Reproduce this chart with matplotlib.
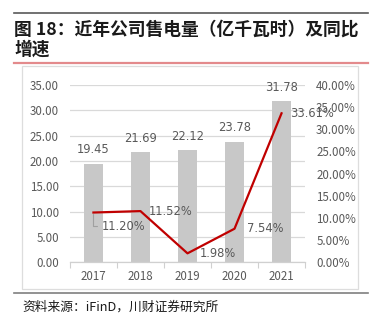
import matplotlib
matplotlib.use("Agg")
import matplotlib.pyplot as plt
from matplotlib.lines import Line2D
from matplotlib.patches import Rectangle

plt.rcParams['font.family'] = ['Noto Sans CJK SC', 'DejaVu Sans']

years = ['2017', '2018', '2019', '2020', '2021']
sales = [19.45, 21.69, 22.12, 23.78, 31.78]          # 亿千瓦时
growth = [11.20, 11.52, 1.98, 7.54, 33.61]           # %

bar_color = '#C8C8C8'
line_color = '#C00000'
tick_color = '#595959'

fig = plt.figure(figsize=(3.78, 3.22), dpi=100)

# frame lines and title block
fig.add_artist(Line2D([0.037, 0.974], [0.960, 0.960], color='#595959', lw=1.2))
fig.text(0.037, 0.908, '图 18：近年公司售电量（亿千瓦时）及同比', fontsize=12.8,
         fontweight='bold', va='center', ha='left', color='#1a1a1a')
fig.text(0.037, 0.845, '增速', fontsize=12.8, fontweight='bold', va='center',
         ha='left', color='#1a1a1a')
fig.add_artist(Line2D([0.037, 0.974], [0.805, 0.805], color='#E38A8C', lw=1.6))
fig.add_artist(Rectangle((0.058, 0.102), 0.889, 0.693, transform=fig.transFigure,
                         fill=False, ec='#DDDDDD', lw=0.9))
fig.add_artist(Line2D([0.037, 0.974], [0.090, 0.090], color='#7F7F7F', lw=1.2))
fig.text(0.058, 0.047, '资料来源：iFinD，川财证券研究所', fontsize=9.2,
         style='italic', va='center', ha='left', color='#1a1a1a')

ax = fig.add_axes([0.185, 0.186, 0.622, 0.550])
x = range(len(years))
ax.bar(x, sales, width=0.4, color=bar_color, zorder=2)
for i, v in enumerate(sales):
    ax.annotate(f'{v:.2f}', (i, v), xytext=(0, 10), textcoords='offset points',
                ha='center', va='center', fontsize=8.3, color=tick_color,
                family='DejaVu Sans')

ax.set_xlim(-0.5, len(years) - 0.5)
ax.set_ylim(0, 35)
ax.set_yticks(range(0, 36, 5))
ax.set_yticklabels([f'{t:.2f}' for t in range(0, 36, 5)])
ax.set_xticks(list(x))
ax.set_xticklabels(years)
ax.set_xticks([i - 0.5 for i in range(len(years) + 1)], minor=True)
ax.tick_params(axis='x', which='major', length=0, pad=6, labelsize=8.3,
               labelcolor=tick_color)
ax.tick_params(axis='x', which='minor', length=4, color='#D0D0D0', width=0.8)
ax.tick_params(axis='y', length=0, pad=8, labelsize=8.3, labelcolor=tick_color)
ax.grid(axis='y', color='#D9D9D9', lw=0.9, zorder=0)
for s in ['top', 'right', 'left']:
    ax.spines[s].set_visible(False)
ax.spines['bottom'].set_color('#D0D0D0')
ax.spines['bottom'].set_linewidth(0.9)
ax.set_axisbelow(True)

ax2 = ax.twinx()
ax2.plot(list(x), growth, color=line_color, lw=1.6, zorder=3)
ax2.set_ylim(0, 40)
ax2.set_yticks(range(0, 41, 5))
ax2.set_yticklabels([f'{t:.2f}%' for t in range(0, 41, 5)])
ax2.tick_params(axis='y', length=0, pad=8, labelsize=8.3, labelcolor=tick_color)
for s in ax2.spines.values():
    s.set_visible(False)

for i, v in enumerate(growth):
    if i == 0:
        ax2.annotate(f'{v:.2f}%', (i, v), xytext=(22, -10), textcoords='offset points',
                     ha='center', va='center', fontsize=8.3, color=tick_color,
                     family='DejaVu Sans',
                     arrowprops=dict(arrowstyle='-', color='#A0A0A0', lw=0.8,
                                     connectionstyle='angle,angleA=0,angleB=90,rad=0',
                                     shrinkA=2, shrinkB=1))
    else:
        ax2.annotate(f'{v:.2f}%', (i, v), xytext=(22, 0), textcoords='offset points',
                     ha='center', va='center', fontsize=8.3, color=tick_color,
                     family='DejaVu Sans')

fig.savefig('out.png', dpi=100)
